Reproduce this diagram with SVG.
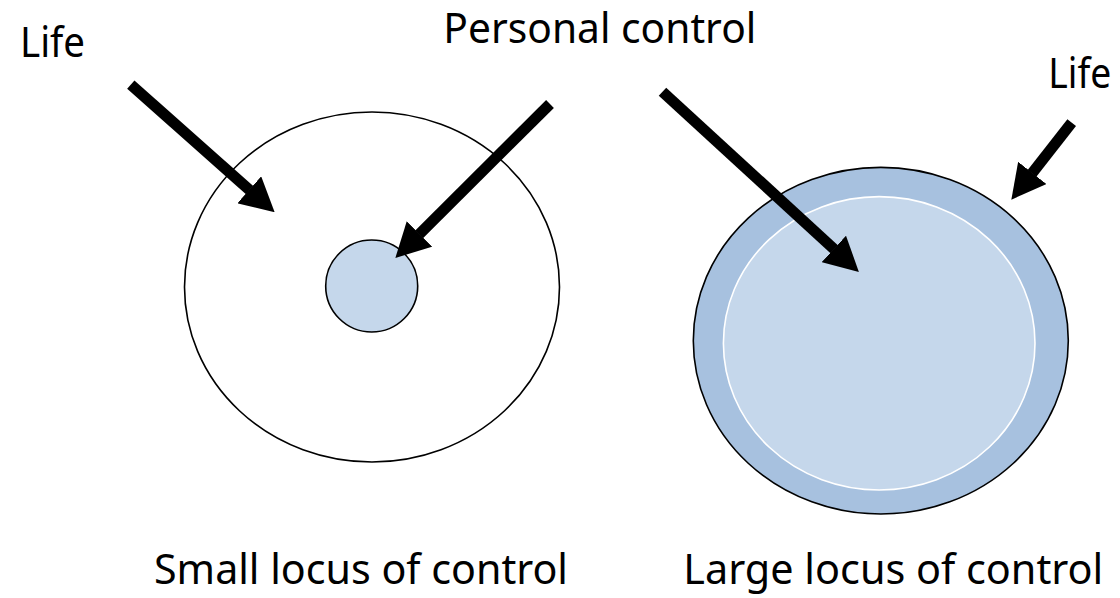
<svg xmlns="http://www.w3.org/2000/svg" width="1120" height="598" viewBox="0 0 1120 598">
  <style>
    .lbl { font-family: "Noto Sans", "Open Sans", sans-serif; font-size: 41px; fill: #000; }
    .arrow { stroke: #000; stroke-width: 11; fill: none; marker-end: url(#head); }
  </style>
  <defs>
    <marker id="head" markerUnits="userSpaceOnUse" viewBox="0 0 34 36" markerWidth="34" markerHeight="36" refX="0.5" refY="18" orient="auto">
      <path d="M0,0 L34,18 L0,36 Z" fill="#000"/>
    </marker>
  </defs>
  <rect width="1120" height="598" fill="#fff"/>

  <g id="small-locus">
    <ellipse cx="372" cy="287" rx="187.5" ry="175" fill="#fff" stroke="#000" stroke-width="1.6"/>
    <circle cx="371.7" cy="286" r="46" fill="#C5D7EB" stroke="#000" stroke-width="1.6"/>
  </g>

  <g id="large-locus">
    <ellipse cx="880.8" cy="340.7" rx="187.5" ry="173.3" fill="#A7C1DF" stroke="#000" stroke-width="1.6"/>
    <ellipse cx="879.2" cy="343.3" rx="155.8" ry="146.7" fill="#C5D7EB" stroke="#fff" stroke-width="1.6"/>
  </g>

  <g id="connectors">
    <line class="arrow" x1="130.8" y1="84.7" x2="249.6" y2="190.1"/>
    <line class="arrow" x1="550" y1="104" x2="419.1" y2="234.3"/>
    <line class="arrow" x1="662.5" y1="91.7" x2="834.2" y2="249.3"/>
    <line class="arrow" x1="1071.7" y1="122.7" x2="1032" y2="173.3"/>
  </g>

  <g id="labels">
    <text class="lbl" x="20" y="57.3" textLength="65" lengthAdjust="spacingAndGlyphs">Life</text>
    <text class="lbl" x="443.3" y="42.7" textLength="313" lengthAdjust="spacingAndGlyphs">Personal control</text>
    <text class="lbl" x="1048.3" y="88.3" textLength="63" lengthAdjust="spacingAndGlyphs">Life</text>
    <text class="lbl" x="154" y="584.3" textLength="414" lengthAdjust="spacingAndGlyphs">Small locus of control</text>
    <text class="lbl" x="683.3" y="584.3" textLength="420" lengthAdjust="spacingAndGlyphs">Large locus of control</text>
  </g>
</svg>
